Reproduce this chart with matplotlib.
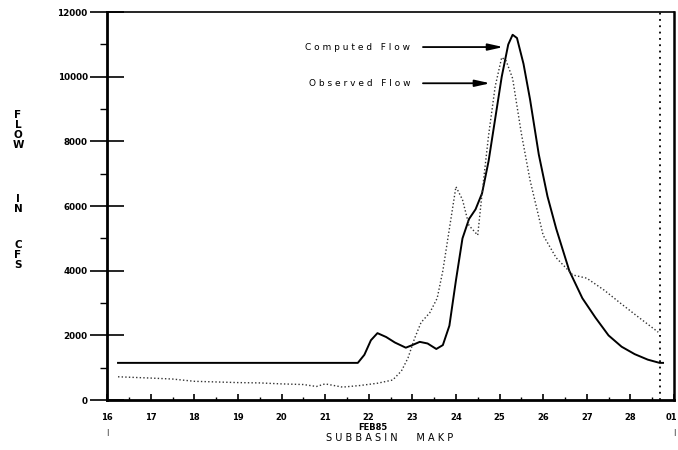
import matplotlib
matplotlib.use("Agg")
import matplotlib.pyplot as plt

# ---- data ----
comp_t = [16.25, 21.75, 21.9, 22.05, 22.2, 22.4, 22.6, 22.85, 23.0, 23.17, 23.35, 23.55, 23.7,
          23.85, 24.0, 24.15, 24.3, 24.45, 24.6, 24.75, 24.9, 25.05, 25.2, 25.3, 25.4, 25.55,
          25.7, 25.9, 26.1, 26.3, 26.6, 26.9, 27.2, 27.5, 27.8, 28.1, 28.4, 28.67, 28.75]
comp_v = [1150, 1150, 1400, 1850, 2070, 1950, 1780, 1620, 1700, 1800, 1750, 1580, 1700,
          2300, 3700, 5000, 5600, 5900, 6400, 7400, 8700, 10000, 11000, 11300, 11200, 10400,
          9300, 7600, 6300, 5300, 4000, 3150, 2550, 2000, 1650, 1420, 1250, 1150, 1150]

obs_t = [16.25, 17.0, 17.5, 18.0, 18.5, 19.0, 19.5, 20.0, 20.5, 20.8, 21.0, 21.4, 21.8, 22.2,
         22.55, 22.75, 22.9, 23.05, 23.2, 23.4, 23.57, 23.7, 23.85, 24.0, 24.15, 24.3, 24.5,
         24.6, 24.75, 24.9, 25.05, 25.15, 25.3, 25.5, 25.7, 25.88, 26.0, 26.3, 26.68, 27.0,
         27.4, 27.77, 28.2, 28.64]
obs_v = [720, 680, 650, 580, 560, 540, 530, 500, 480, 420, 500, 400, 450, 520,
         620, 900, 1300, 1900, 2400, 2700, 3150, 4000, 5300, 6600, 6200, 5400, 5100,
         6400, 8200, 9700, 10600, 10500, 9950, 8250, 6800, 5780, 5100, 4400, 3870, 3770,
         3400, 3000, 2550, 2100]

end_time = 28.67
x_ticks = list(range(16, 30))
x_labels = ["16", "17", "18", "19", "20", "21", "22", "23", "24", "25", "26", "27", "28", "01"]
y_ticks = [0, 2000, 4000, 6000, 8000, 10000, 12000]
y_labels = ["0", "2000", "4000", "6000", "8000", "10000", "12000"]
ylabel_words = ["FLOW", "IN", "CFS"]

fig = plt.figure(figsize=(6.78, 4.5), dpi=100)
ax = fig.add_axes([0.158, 0.111, 0.836, 0.862])

ax.plot(comp_t, comp_v, color="black", lw=1.4, solid_joinstyle="round")
ax.plot(obs_t, obs_v, color="#333333", lw=1.0, linestyle=(0, (1, 1.6)))
ax.plot([end_time, end_time], [0, 12000], color="black", lw=1.3, linestyle=(0, (1, 2.5)))

ax.set_xlim(16, 29)
ax.set_ylim(0, 12000)

ax.set_xticks(x_ticks)
ax.set_xticklabels(x_labels[:-1] + [""], fontsize=6, fontweight="bold")
ax.set_xticks([t + 0.5 for t in x_ticks[:-1]], minor=True)
ax.set_yticks(y_ticks)
ax.set_yticklabels(y_labels, fontsize=6.3, fontweight="bold")
ax.set_yticks([1000, 3000, 5000, 7000, 9000, 11000], minor=True)

ax.tick_params(axis="x", which="major", direction="in", length=4, width=1.2, pad=9)
ax.tick_params(axis="x", which="minor", direction="in", length=2.2, width=1.0)
ax.tick_params(axis="y", which="major", direction="inout", length=24, width=1.2, pad=2)
ax.tick_params(axis="y", which="minor", direction="out", length=5, width=1.0)

for s in ["left", "bottom"]:
    ax.spines[s].set_linewidth(2.0)
ax.spines["top"].set_linewidth(1.2)
ax.spines["right"].set_linewidth(1.8)

# last tick label (at the edge in the original)
fig.text(677 / 678, 1 - 417 / 450, x_labels[-1], ha="right", va="center",
         fontsize=6, fontweight="bold")
# month marks under 16 and 01
for xv in (16, 29):
    ax.text(xv, -0.075, "|", transform=ax.get_xaxis_transform(), ha="center", va="top",
            fontsize=5, clip_on=False)

# annotations
arrow = dict(arrowstyle="-|>,head_length=0.9,head_width=0.2", color="black", lw=1.3)
ax.annotate("", xy=(25.15, 10920), xytext=(23.18, 10920), arrowprops=arrow)
ax.annotate("", xy=(24.85, 9800), xytext=(23.18, 9800), arrowprops=arrow)
ax.text(22.95, 10920, "C o m p u t e d   F l o w", ha="right", va="center", fontsize=6.5)
ax.text(22.95, 9800, "O b s e r v e d   F l o w", ha="right", va="center", fontsize=6.5)

# vertical axis label, stacked letters
word_centers = [130, 204, 255]
for word, yc in zip(ylabel_words, word_centers):
    fig.text(18 / 678, 1 - yc / 450, "\n".join(word), ha="center", va="center",
             fontsize=7.5, fontweight="bold", linespacing=1.02)

fig.text(373 / 678, 1 - 427 / 450, "FEB85", ha="center", va="center", fontsize=6, fontweight="bold")
fig.text(390 / 678, 1 - 438 / 450, "S U B B A S I N      M A K P", ha="center", va="center", fontsize=7)

fig.savefig("out.png", dpi=100)
